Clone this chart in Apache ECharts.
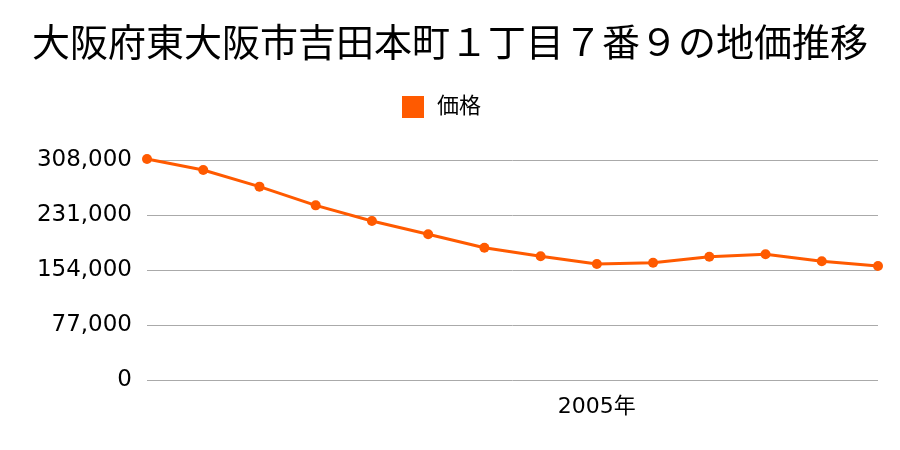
<!DOCTYPE html>
<html><head><meta charset="utf-8">
<script src="https://cdn.jsdelivr.net/npm/echarts@6/dist/echarts.min.js"></script>
<style>html,body{margin:0;padding:0;background:#fff}#c{width:900px;height:450px}</style>
</head><body><div id="c"></div>
<script>
const titleText = "大阪府東大阪市吉田本町１丁目７番９の地価推移";
const seriesName = "価格";
const years = ["1997","1998","1999","2000","2001","2002","2003","2004","2005","2006","2007","2008","2009","2010"];
const shownYears = ["2005"];
const prices = [309500,294000,270700,244500,222600,204000,185200,173200,162400,164200,172600,176000,166200,159600];
const yTicks = [0,77000,154000,231000,308000];

const numFont = '"DejaVu Sans", "Noto Sans CJK JP", sans-serif';
const chart = echarts.init(document.getElementById('c'));
chart.setOption({
  animation:false,
  title:{text:titleText,left:'center',top:22,textStyle:{fontFamily:numFont,fontSize:38,fontWeight:'normal',color:'#000'}},
  legend:{data:[seriesName],top:91,left:397,itemWidth:22,itemHeight:22,icon:'rect',itemGap:10,
    textStyle:{fontFamily:numFont,fontSize:22,color:'#000',padding:[0,0,0,8]}},
  grid:{left:147,right:22,top:160,bottom:70,containLabel:false},
  xAxis:{type:'category',data:years,boundaryGap:false,
    axisLine:{show:false},axisTick:{show:false},
    axisLabel:{interval:0,margin:16,fontFamily:numFont,fontSize:22,color:'#000',
      formatter:v=>shownYears.includes(v)?v+'年':''}},
  yAxis:{type:'value',min:yTicks[0],max:yTicks[yTicks.length-1],interval:yTicks[1]-yTicks[0],
    axisLine:{show:false},axisTick:{show:false},
    splitLine:{lineStyle:{color:'#aaaaaa',width:1}},
    axisLabel:{margin:15,fontFamily:numFont,fontSize:23,color:'#000',
      formatter:v=>v.toLocaleString('en-US')}},
  series:[{name:seriesName,type:'line',data:prices,clip:false,
    symbol:'circle',symbolSize:10,
    lineStyle:{color:'#ff5a00',width:3},itemStyle:{color:'#ff5a00'}}]
});
</script></body></html>
